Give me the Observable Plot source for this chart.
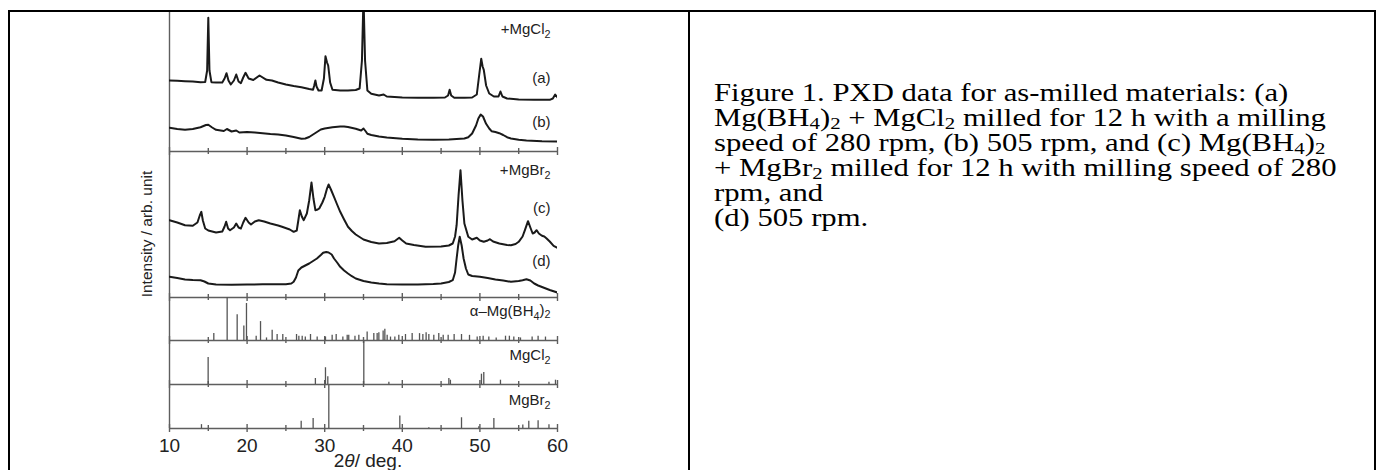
<!DOCTYPE html>
<html><head><meta charset="utf-8">
<script src="https://cdn.jsdelivr.net/npm/d3@7"></script>
<script src="https://cdn.jsdelivr.net/npm/@observablehq/plot@0.6"></script>
<style>
html,body{margin:0;padding:0;background:#fff;overflow:hidden;width:1381px;height:470px;}
#frame{position:absolute;left:8px;top:10px;width:1368px;height:520px;border:2px solid #000;box-sizing:border-box;}
#divider{position:absolute;left:688px;top:10px;width:2px;height:520px;background:#000;}
#chart{position:absolute;left:0;top:0;}
#caption{position:absolute;left:714px;top:80px;font-family:"Liberation Serif","Times New Roman",serif;font-size:26px;line-height:25px;white-space:nowrap;transform:scaleX(1.18);transform-origin:0 0;color:#000;}
#caption sub{font-size:0.68em;vertical-align:-0.18em;line-height:0}
</style></head><body>
<div id="frame"></div><div id="divider"></div>
<div id="chart"></div>
<div id="caption">Figure 1. PXD data for as-milled materials: (a)<br>Mg(BH<sub>4</sub>)<sub>2</sub> + MgCl<sub>2</sub> milled for 12 h with a milling<br>speed of 280 rpm, (b) 505 rpm, and (c) Mg(BH<sub>4</sub>)<sub>2</sub><br>+ MgBr<sub>2</sub> milled for 12 h with milling speed of 280<br>rpm, and<br>(d) 505 rpm.</div>
<script>
// ---- data (2θ in degrees, intensity in arbitrary units) ----
const xTicks = [10, 20, 30, 40, 50, 60];
const xMinorTicks = [15, 25, 35, 45, 55];

const traceA = [[10,28],[11,27.7],[12,27.3],[13,27],[14,26.3],[14.6,26.5],[14.85,38],[15,90.7],[15.15,38],[15.4,26.3],[16,26],[16.8,26],[17.1,30],[17.35,35.3],[17.6,28],[17.9,24],[18.3,28],[18.6,34],[18.9,27],[19.2,25.3],[19.5,31],[19.8,35.7],[20.2,30],[20.8,28.5],[21.6,33],[22.5,28.7],[23.2,28],[24,26],[25,24],[26,22.5],[27,21.3],[28,19.5],[28.5,18.7],[28.65,23],[28.8,28],[28.95,22],[29.2,18],[29.6,18],[29.9,30],[30.1,52.3],[30.3,46],[30.45,43],[30.7,26],[31,18.7],[32,18],[33,18],[34,18.5],[34.5,20],[34.8,48],[35,112],[35.2,48],[35.5,18],[36,14.7],[37,13],[37.6,14],[38,12],[39,11.5],[40,11],[42,10.7],[44,10.7],[45.5,11],[45.9,13],[46.1,18.7],[46.3,13],[46.7,10.7],[48,10.7],[49,11],[49.6,14],[49.9,33],[50.17,49.7],[50.35,42],[50.5,38.7],[50.8,23],[51.2,15],[51.8,12],[52.4,12],[52.65,17],[52.9,12],[53.5,10],[55,9],[57,8.7],[59,8.7],[59.4,10],[59.7,14],[60,11]];

const traceB = [[10,20.7],[11,19.5],[12,18.7],[13,19.5],[14,21.3],[14.7,23.5],[15,23.7],[15.5,21],[16,18.7],[17,17.5],[17.4,19.5],[18,17],[18.6,18],[19,16],[20,16.5],[21,16],[22,15.3],[23,14.5],[24,14],[25,13],[26,11.5],[27,9.7],[27.5,10],[28,11.5],[28.5,14],[29,16.5],[29.5,19],[30,20],[31,21.3],[32,22],[32.5,22],[33,21.5],[34,19.7],[34.7,18],[35,20],[35.3,17],[35.5,14.7],[36,13.5],[37,12],[38,11],[40,9.7],[42,9],[44,8.7],[46,9],[47,9.5],[48,10],[48.5,11.3],[49,15],[49.5,23],[49.8,30],[50.1,34],[50.4,32],[50.8,24.7],[51.2,20],[51.5,17.3],[52,16.5],[52.5,15.3],[53,13.5],[53.5,11.3],[54,10],[55,8.7],[56,8],[58,7.3],[60,7]];

const traceC = [[10,33.3],[11,31],[12,28.3],[13,27.7],[13.6,31],[13.9,38],[14.1,41.7],[14.3,33],[14.6,25],[15,23],[16,21],[16.8,22],[17.1,27],[17.3,31.7],[17.55,25],[17.8,23.3],[18.3,26],[18.6,30],[18.9,26],[19.2,25],[19.5,31],[19.8,35.7],[20.2,31],[20.5,29],[21,32],[21.5,33.3],[22.2,32],[23,30],[24,28],[24.5,26.7],[25.5,24],[26,21.7],[26.4,23],[26.6,33],[26.8,43.3],[27.05,37],[27.3,33.3],[27.7,40],[28,53],[28.3,71],[28.55,55],[28.8,43.3],[29.1,44],[29.3,45],[29.7,51],[30,56.7],[30.3,65],[30.5,69],[30.8,64],[31.2,56.7],[31.6,49],[32,41.7],[32.5,34],[33,26.7],[33.5,22.5],[34,19],[35,14],[36,11.5],[37,10],[38,10.5],[39,12.3],[39.6,15.7],[40,13],[40.5,10],[41.5,8.5],[43,6.7],[45,7],[46,8],[46.5,10],[46.8,17],[47,28.3],[47.25,58],[47.5,83.3],[47.75,53],[48,30],[48.5,16.7],[49,14],[49.6,15.7],[50,13],[50.5,11.7],[51,13],[51.3,14.3],[51.7,12],[52.5,10],[53.5,8.5],[54,8.3],[54.6,9.5],[55,11.7],[55.5,17],[55.8,23.3],[56.2,32.3],[56.5,26],[56.8,20],[57.05,21],[57.3,23.3],[57.6,20],[58,17.7],[58.3,17],[58.6,15],[59,12],[59.5,7.7],[60,5.7]];

const traceD = [[10,21.7],[11,20.5],[12,19],[13,18.5],[14,18.3],[14.5,17],[15,15],[16,14],[18,13.8],[20,14],[22,14.2],[24,14.3],[25,14.3],[25.7,15],[26,16.7],[26.3,21],[26.6,28],[27,31],[27.5,33],[28,35],[28.5,37.5],[29,40],[29.5,43.5],[29.8,45.7],[30.2,46.5],[30.5,46],[30.9,44],[31.2,40],[31.6,36],[32,31.7],[32.5,28],[33,25],[33.5,22.3],[34,20],[35,17.5],[36,16],[37,15],[38,14.3],[40,14],[42,14],[44,14.5],[45,15],[46,16.5],[46.5,18.3],[46.8,26],[47,40],[47.2,53],[47.4,61.7],[47.65,53],[47.9,40],[48.2,30],[48.5,24],[49,22.5],[50,21.7],[51,20.5],[52,19],[53,18],[54,16.7],[55,17.5],[55.5,18.3],[56,19.3],[56.5,18],[57,15],[57.5,13],[58,11.5],[58.5,10],[59,8.5],[60,6]];

// reference patterns: [2θ, relative intensity %]
const refMgBH4 = [[15.71,16],[17.43,100],[18.72,60],[19.58,34],[19.92,86],[21.17,10],[21.73,44],[22.5,6],[23.23,24],[23.87,14],[24.6,14],[26.37,14],[26.67,10],[27.1,10],[27.5,8],[28.17,14],[29.03,8],[30.1,8],[30.96,12],[31.48,14],[32.34,8],[32.9,12],[33.1,12],[33.9,10],[34.4,12],[35.47,20],[36.33,16],[36.76,16],[36.98,18],[37.53,22],[37.75,26],[38.05,12],[38.48,8],[39.04,8],[39.55,12],[40.41,14],[41.27,16],[42.22,16],[42.65,14],[43.07,18],[43.42,14],[44.06,12],[44.7,16],[45.27,12],[45.91,12],[46.68,14],[47.63,14],[48.66,12],[49.65,8],[50.42,10],[51.15,8],[52.1,6],[53.3,10],[53.8,10],[54.37,8],[55.23,6],[56.73,8],[57.5,10],[58.45,8]];
const refMgCl2 = [[14.98,63],[28.8,14],[30.1,39],[30.4,18],[35.04,100],[38.27,5],[46.0,14],[46.2,10],[50.2,24],[50.5,28],[52.65,10],[58.9,5],[59.74,10]];
const refMgBr2 = [[14.12,9],[26.97,17],[28.51,23],[30.53,100],[39.68,29],[43.42,2],[47.63,25],[49.86,4],[51.8,23],[55.53,8],[56.3,17],[57.5,18],[58.9,9]];

// vertical stacking (offsets in the figure's intensity units)
const traceOffsets = {a: 320, b: 280, c: 175, d: 130};
const refOffsets = {MgBH4: 88, MgCl2: 44, MgBr2: 0};
const refFullHeight = 43;
const separators = [277, 131, 88, 44, 0];

const labels = [
  {text: "+MgCl₂", y: 399}, {text: "(a)", y: 350}, {text: "(b)", y: 306},
  {text: "+MgBr₂", y: 258}, {text: "(c)", y: 220}, {text: "(d)", y: 167},
  {text: "α–Mg(BH₄)₂", y: 117}, {text: "MgCl₂", y: 73}, {text: "MgBr₂", y: 28}
];

// ---- build tables ----
const traces = {a: traceA, b: traceB, c: traceC, d: traceD};
const lineRows = Object.entries(traces).flatMap(([k, arr]) => arr.map(([x, v]) => ({trace: k, x, y: v + traceOffsets[k]})));
const refs = {MgBH4: refMgBH4, MgCl2: refMgCl2, MgBr2: refMgBr2};
const stickRows = Object.entries(refs).flatMap(([k, arr]) => arr.map(([x, r]) => ({x, base: refOffsets[k], top: refOffsets[k] + r / 100 * refFullHeight})));
const majorRows = separators.flatMap(y => xTicks.map(x => ({x, y})));
const minorRows = separators.flatMap(y => xMinorTicks.map(x => ({x, y})));

const gray = "#5e5e5e";
const chart = Plot.plot({
  width: 690, height: 470,
  marginLeft: 169, marginRight: 133, marginTop: 12, marginBottom: 42,
  x: {domain: [10, 60]},
  y: {domain: [0, 416], axis: null},
  style: {fontFamily: "'Liberation Sans', Arial, sans-serif", background: "transparent", color: "#222"},
  marks: [
    Plot.ruleY(separators, {stroke: gray, strokeWidth: 1.4}),
    Plot.ruleX([10], {stroke: gray, strokeWidth: 1.4}),
    Plot.ruleX(majorRows, {x: "x", y1: "y", y2: "y", insetTop: -4, insetBottom: -4, stroke: gray, strokeWidth: 1.4}),
    Plot.ruleX(minorRows, {x: "x", y1: "y", y2: "y", insetTop: -3, insetBottom: -3, stroke: gray, strokeWidth: 1.4}),
    Plot.ruleX(stickRows, {x: "x", y1: "base", y2: "top", stroke: "#555", strokeWidth: 1.3}),
    Plot.line(lineRows, {x: "x", y: "y", z: "trace", stroke: "#1a1a1a", strokeWidth: 2, clip: true}),
    Plot.text(labels, {x: () => 60, y: "y", text: "text", textAnchor: "end", dx: -7, fontSize: 15, fill: "#222"}),
    Plot.axisX({ticks: xTicks, tickSize: 0, tickPadding: 10, fontSize: 19, label: null, fill: "#222"})
  ]
});

// subscripts as real tspans
d3.select(chart).selectAll("text").each(function() {
  const t = this.textContent;
  if (!/[₀-₉]/.test(t)) return;
  const el = d3.select(this); el.text(null);
  const subs = {"₀":"0","₁":"1","₂":"2","₃":"3","₄":"4","₅":"5","₆":"6","₇":"7","₈":"8","₉":"9"};
  let prevSub = false;
  for (const ch of t) {
    if (subs[ch]) {
      el.append("tspan").attr("dy", prevSub ? "0" : "0.3em").attr("font-size", "0.72em").text(subs[ch]);
      prevSub = true;
    } else {
      el.append("tspan").attr("dy", prevSub ? "-0.3em" : "0").text(ch);
      prevSub = false;
    }
  }
});

const svg = d3.select(chart);
const xl = svg.append("text").attr("x", 368).attr("y", 467).attr("text-anchor", "middle").attr("font-size", 19).attr("fill", "#222");
xl.append("tspan").text("2");
xl.append("tspan").attr("font-style", "italic").text("θ");
xl.append("tspan").text("/ deg.");
svg.append("text").attr("transform", "translate(147,234) rotate(-90)").attr("text-anchor", "middle").attr("dy", "0.35em").attr("font-size", 15.5).attr("fill", "#222").text("Intensity / arb. unit");

document.getElementById("chart").appendChild(chart);
</script>
</body></html>
